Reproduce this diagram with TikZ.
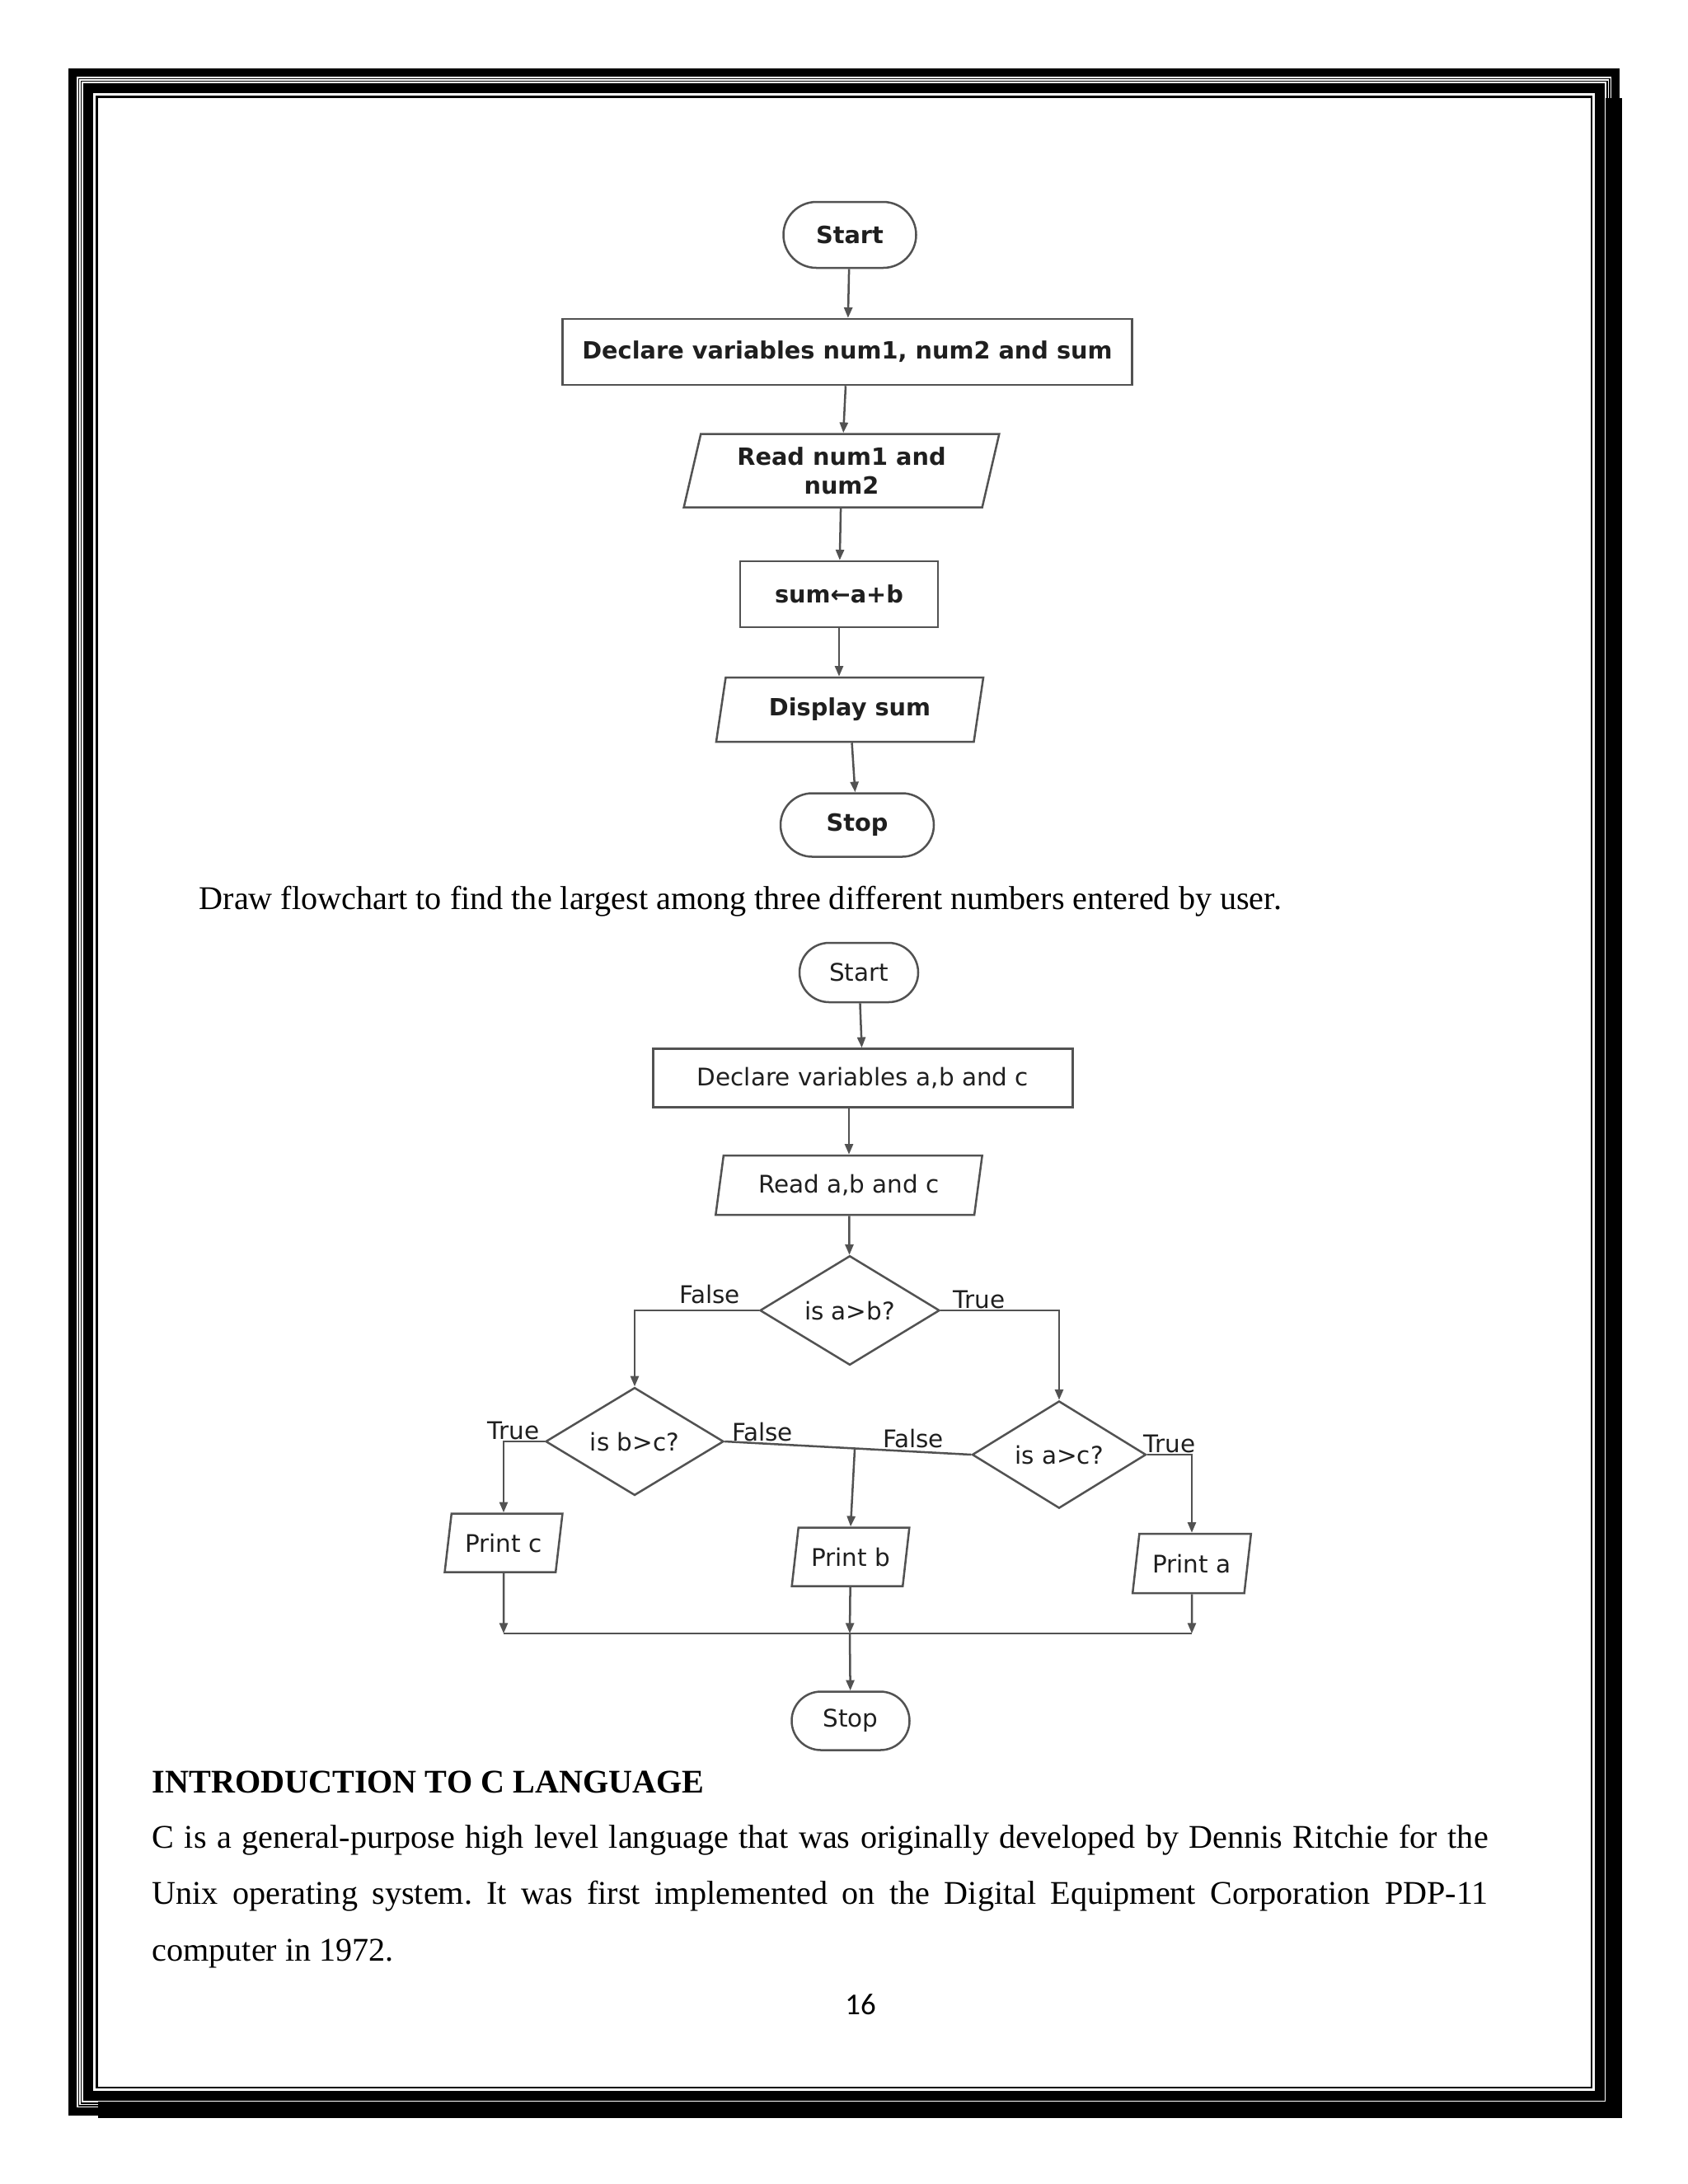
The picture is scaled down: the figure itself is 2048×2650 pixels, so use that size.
\documentclass[tikz,border=0pt]{standalone}
\usepackage{fontspec}
\setmainfont{Liberation Serif}
\newfontfamily\chartfont{DejaVu Sans}
\newfontfamily\pagenofont{Carlito}
\usetikzlibrary{shapes.geometric,shapes.misc,arrows.meta,calc}
\newlength\pxlen
\setlength\pxlen{0.29883pt}
\frenchspacing

\tikzset{
  chart/.style={draw=black!68, line width=0.75pt, text=black!88, inner sep=0pt, fill=white},
  fontone/.style={font=\chartfont\bfseries\fontsize{8.6}{10.4}\selectfont},
  fonttwo/.style={font=\chartfont\fontsize{8.8}{10.4}\selectfont},
  terminal/.style={chart, rounded rectangle},
  process/.style={chart, rectangle},
  inout/.style={chart, trapezium, trapezium left angle=75, trapezium right angle=105, trapezium stretches=true},
  decision/.style={chart, diamond},
  flow/.style={draw=black!68, line width=0.75pt, -{Triangle[length=3.8pt,width=3pt]}},
  wire/.style={draw=black!68, line width=0.75pt},
  lbl/.style={fonttwo, text=black!88, inner sep=0pt}
}

\begin{document}
\begin{tikzpicture}[x=0.29883pt,y=0.29883pt,yscale=-1,xscale=1]
			\fill[white] (0,0) rectangle (2048,2650);
			\useasboundingbox (0,0) rectangle (2048,2650);
	
			% Page border
			\foreach \d/\c in {0/black,10/white,11.5/black,13/white,14.5/black,16/white,18/black,30/white,33/black,35.5/white}
				\fill[\c] ({83+\d},{83+\d}) rectangle ({1965-\d},{2567-\d});
			% Border shadow
			\fill[black] (1948,119) rectangle (1968,2570);
			\fill[black] (119,2550) rectangle (1968,2570);
	
			% Shape: Start
			\node[terminal, fontone, minimum width=161\pxlen, minimum height=80\pxlen] (start1) at (1031,285) {Start};
			% Shape: Declare
			\node[process, fontone, minimum width=691\pxlen, minimum height=80\pxlen] (decl1) at (1028,427) {Declare variables num1, num2 and sum};
			% Shape: Read
			\node[inout, fontone, minimum width=386\pxlen, minimum height=89\pxlen, align=center] (read1) at (1021,571) {Read num1 and\\num2};
			% Shape: Sum
			\node[process, fontone, minimum width=240\pxlen, minimum height=80\pxlen] (sum1) at (1018,721) {sum←a+b};
			% Shape: Display
			\node[inout, fontone, minimum width=325\pxlen, minimum height=78\pxlen] (show1) at (1031,861) {Display sum};
			% Shape: Stop
			\node[terminal, fontone, minimum width=186\pxlen, minimum height=77\pxlen] (stop1) at (1040,1001) {Stop};
			% Connection
			\draw[flow] (start1) -- (decl1);
			% Connection
			\draw[flow] (decl1) -- (read1);
			% Connection
			\draw[flow] (read1) -- (sum1);
			% Connection
			\draw[flow] (sum1) -- (sum1 |- show1.north);
			% Connection
			\draw[flow] (show1) -- (stop1);
	
			% Text Node
			\node[anchor=base west, inner sep=0pt, font=\fontsize{12}{14}\selectfont] (task) at (241,1103) {Draw flowchart to find the largest among three different numbers entered by user.};
	
			% Shape: Start
			\node[terminal, fonttwo, minimum width=144\pxlen, minimum height=72\pxlen] (start2) at (1042,1180) {Start};
			% Shape: Declare
			\node[process, fonttwo, minimum width=509\pxlen, minimum height=71\pxlen] (decl2) at (1047,1308) {Declare variables a,b and c};
			% Shape: Read
			\node[inout, fonttwo, minimum width=324\pxlen, minimum height=72\pxlen] (read2) at (1030,1438) {Read a,b and c};
			% Shape: is a>b?
			\node[decision, fonttwo, minimum width=218\pxlen, minimum height=131\pxlen] (q1) at (1031,1590) {is a>b?};
			% Shape: is b>c?
			\node[decision, fonttwo, minimum width=216\pxlen, minimum height=128\pxlen] (q2) at (770,1749) {is b>c?};
			% Shape: is a>c?
			\node[decision, fonttwo, minimum width=211\pxlen, minimum height=126\pxlen] (q3) at (1285,1765) {is a>c?};
			% Shape: Print c
			\node[inout, fonttwo, minimum width=143\pxlen, minimum height=71\pxlen] (out3) at (611,1872) {Print c};
			% Shape: Print b
			\node[inout, fonttwo, minimum width=143\pxlen, minimum height=71\pxlen] (out2) at (1032,1889) {Print b};
			% Shape: Print a
			\node[inout, fonttwo, minimum width=144\pxlen, minimum height=72\pxlen] (out1) at (1446,1897) {Print a};
			% Shape: Stop
			\node[terminal, fonttwo, minimum width=143\pxlen, minimum height=71\pxlen] (stop2) at (1032,2088) {Stop};
	
			% Text Node
			\node[lbl] (f1) at (861,1570) {False};
			% Text Node
			\node[lbl] (t1) at (1188,1577) {True};
			% Text Node
			\node[lbl] (t2) at (623,1736) {True};
			% Text Node
			\node[lbl] (f2) at (925,1737) {False};
			% Text Node
			\node[lbl] (f3) at (1108,1745) {False};
			% Text Node
			\node[lbl] (t3) at (1419,1752) {True};
	
			% Connection
			\draw[flow] (start2) -- (decl2);
			% Connection
			\draw[flow] (read2.north |- decl2.south) -- (read2.north);
			% Connection
			\draw[flow] (read2) -- (q1);
			% Connection
			\draw[flow] (q1.west) -| (q2.north);
			% Connection
			\draw[flow] (q1.east) -| (q3.north);
			% Connection
			\draw[flow] (q2.west) -| (out3.north);
			% Connection
			\draw[flow] (q3.east) -| (out1.north);
			% Connection
			\draw[wire] (q2.east) -- (q3.west);
			\coordinate (jb) at ($(q2.east)!(out2.north)!(q3.west)$);
			\draw[flow] (jb) -- (out2.north);
			% Connection
			\coordinate (jm) at (1031,1982);
			\draw[flow] (out3) -- (out3 |- jm);
			\draw[flow] (out2) -- (jm);
			\draw[flow] (out1) -- (out1 |- jm);
			\draw[wire] (out3 |- jm) -- (out1 |- jm);
			\draw[flow] (jm) -- (stop2);
	
			% Text Node
			\node[anchor=base west, inner sep=0pt, font=\bfseries\fontsize{12}{14}\selectfont] (head) at (184,2175) {INTRODUCTION TO C LANGUAGE};
			% Text Node
			\node[anchor=base west, inner sep=0pt, font=\fontsize{12}{20.6}\selectfont] (para) at (184,2242) {\parbox[t]{1621\pxlen}{\fontsize{12}{20.6}\selectfont C is a general-purpose high level language that was originally developed by Dennis Ritchie for the\linebreak Unix operating system. It was first implemented on the Digital Equipment Corporation PDP-11\linebreak computer in 1972.}};
			% Text Node
			\node[anchor=base, inner sep=0pt, font=\pagenofont\fontsize{11}{13}\selectfont] (pageno) at (1044,2444) {16};
			\end{tikzpicture}
\end{document}
